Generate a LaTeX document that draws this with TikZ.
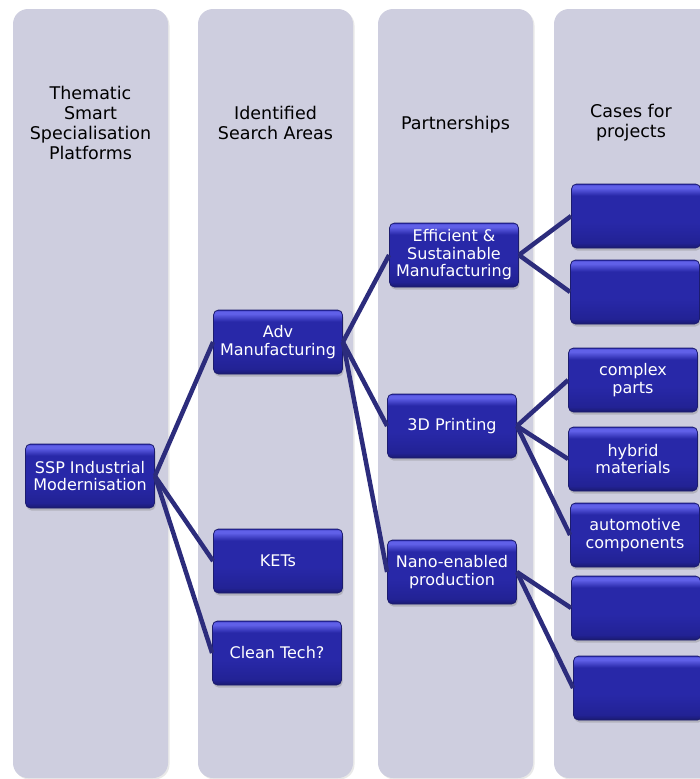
\documentclass[tikz,border=0pt]{standalone}
\usepackage{fontspec}
\setmainfont{DejaVu Sans}
\usetikzlibrary{shadows}
\definecolor{colbg}{RGB}{206,206,223}
\definecolor{boxhi}{RGB}{96,96,232}
\definecolor{boxmid}{RGB}{40,40,168}
\definecolor{boxlow}{RGB}{34,34,148}
\definecolor{boxbot}{RGB}{26,26,112}
\definecolor{boxline}{RGB}{28,28,110}
\definecolor{conn}{RGB}{44,44,124}
\pgfdeclareverticalshading{bluegloss}{100bp}{color(0bp)=(boxbot); color(25bp)=(boxbot); color(29bp)=(boxlow); color(45bp)=(boxmid); color(66bp)=(boxmid); color(72bp)=(boxhi); color(74bp)=(boxhi); color(75bp)=(boxmid); color(100bp)=(boxmid)}
\tikzset{
  colbox/.style={fill=colbg, rounded corners=15pt, drop shadow={opacity=0.18, shadow xshift=1.5pt, shadow yshift=-1.5pt}},
  header/.style={align=center, text=black, font=\fontsize{17.5}{20}\selectfont},
  bluebox/.style={rectangle, rounded corners=5pt, minimum width=129pt, minimum height=64pt,
    align=center, text=white, font=\fontsize{16}{17.5}\selectfont,
    shading=bluegloss, draw=boxline, line width=0.8pt,
    drop shadow={opacity=0.35, shadow xshift=1pt, shadow yshift=-2.5pt}},
  link/.style={draw=conn, line width=4.5pt},
}
\begin{document}
\begin{tikzpicture}[x=1pt, y=-1pt]
\useasboundingbox (0,0) rectangle (700,779);
\clip (0,0) rectangle (700,779);
% columns
\path[colbox] (13,9) rectangle (168,778);
\path[colbox] (198,9) rectangle (353,778);
\path[colbox] (378,9) rectangle (533,778);
\path[colbox] (554,9) rectangle (730,778);
% headers
\node[header] (h1) at (90.5,123) {Thematic\\Smart\\Specialisation\\Platforms};
\node[header] (h2) at (275.5,123) {Identified\\Search Areas};
\node[header] (h3) at (455.5,125) {Partnerships};
\node[header] (h4) at (631,123) {Cases for\\projects};
% nodes
\node[bluebox] (ssp) at (90,476) {SSP Industrial\\Modernisation};
\node[bluebox] (adv) at (278,342) {Adv\\Manufacturing};
\node[bluebox] (kets) at (278,561) {KETs};
\node[bluebox] (clean) at (277,653) {Clean Tech?};
\node[bluebox] (eff) at (454,255) {Efficient \&\\Sustainable\\Manufacturing};
\node[bluebox] (pr3d) at (452,426) {3D Printing};
\node[bluebox] (nano) at (452,572) {Nano-enabled\\production};
\node[bluebox] (c1) at (636,216) {};
\node[bluebox] (c2) at (635,292) {};
\node[bluebox] (cp) at (633,380) {complex\\parts};
\node[bluebox] (hy) at (633,459) {hybrid\\materials};
\node[bluebox] (au) at (635,535) {automotive\\components};
\node[bluebox] (c6) at (636,608) {};
\node[bluebox] (c7) at (638,688) {};
% connectors
\path[link] (ssp.east) -- (adv.west);
\path[link] (ssp.east) -- (kets.west);
\path[link] (ssp.east) -- (clean.west);
\path[link] (adv.east) -- (eff.west);
\path[link] (adv.east) -- (pr3d.west);
\path[link] (adv.east) -- (nano.west);
\path[link] (eff.east) -- (c1.west);
\path[link] (eff.east) -- (c2.west);
\path[link] (pr3d.east) -- (cp.west);
\path[link] (pr3d.east) -- (hy.west);
\path[link] (pr3d.east) -- (au.west);
\path[link] (nano.east) -- (c6.west);
\path[link] (nano.east) -- (c7.west);
\end{tikzpicture}
\end{document}
